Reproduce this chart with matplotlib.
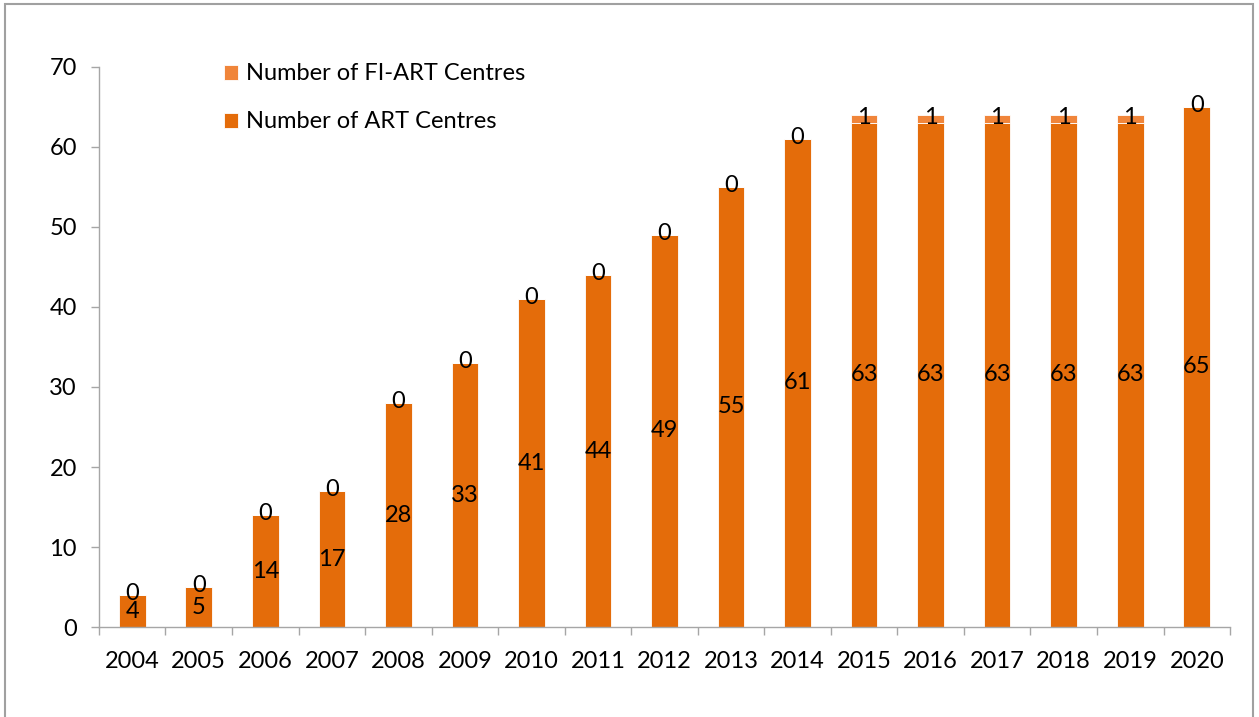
import matplotlib.pyplot as plt
from matplotlib.patches import Rectangle

plt.rcParams['font.family'] = ['Lato', 'DejaVu Sans']

years = ["2004", "2005", "2006", "2007", "2008", "2009", "2010", "2011", "2012",
         "2013", "2014", "2015", "2016", "2017", "2018", "2019", "2020"]
art_centres = [4, 5, 14, 17, 28, 33, 41, 44, 49, 55, 61, 63, 63, 63, 63, 63, 65]
fi_art_centres = [0, 0, 0, 0, 0, 0, 0, 0, 0, 0, 0, 1, 1, 1, 1, 1, 0]

col_art = "#E46C0A"
col_fi = "#F0853A"
grey = "#A6A6A6"
fs = 17

fig = plt.figure(figsize=(12.59, 7.17), dpi=100)
ax = fig.add_axes([0.0786, 0.1255, 0.8984, 0.7811])

x = list(range(len(years)))
b1 = ax.bar(x, art_centres, width=0.4, color=col_art, edgecolor="white", linewidth=0.6,
            label="Number of ART Centres")
b2 = ax.bar(x, fi_art_centres, width=0.4, bottom=art_centres, color=col_fi,
            edgecolor="white", linewidth=0.6, label="Number of FI-ART Centres")

# etiquetas de datos, centradas en cada segmento
for i in x:
    ax.text(i, art_centres[i] / 2, str(art_centres[i]), ha="center", va="center", fontsize=fs)
    ax.text(i, art_centres[i] + fi_art_centres[i] / 2 + 0.2, str(fi_art_centres[i]),
            ha="center", va="center", fontsize=fs)

ax.set_xlim(-0.5, len(years) - 0.5)
ax.set_ylim(0, 70)
ax.set_yticks(range(0, 71, 10))
ax.set_xticks(x)
ax.set_xticklabels(years)
ax.set_xticks([i - 0.5 for i in range(len(years) + 1)], minor=True)
ax.tick_params(axis="x", which="major", length=0, pad=17, labelsize=fs)
ax.tick_params(axis="x", which="minor", length=5.8, color=grey, width=1)
ax.tick_params(axis="y", length=5.8, color=grey, width=1, pad=10, labelsize=fs)

for s in ["top", "right"]:
    ax.spines[s].set_visible(False)
for s in ["left", "bottom"]:
    ax.spines[s].set_color(grey)
    ax.spines[s].set_linewidth(1)

handles = [b2, b1]
ax.legend(handles, [h.get_label() for h in handles], loc="upper left",
          bbox_to_anchor=(0.096, 1.036), frameon=False, fontsize=fs,
          handlelength=0.6, handleheight=0.6, handletextpad=0.35, labelspacing=1.15,
          borderpad=0.2)

fig.patches.append(Rectangle((5 / 1259, -0.05), 1248 / 1259, 1 - 4 / 717 + 0.05,
                             transform=fig.transFigure, fill=False,
                             edgecolor="#A0A0A0", linewidth=1.5))

fig.savefig("out.png", dpi=100)
